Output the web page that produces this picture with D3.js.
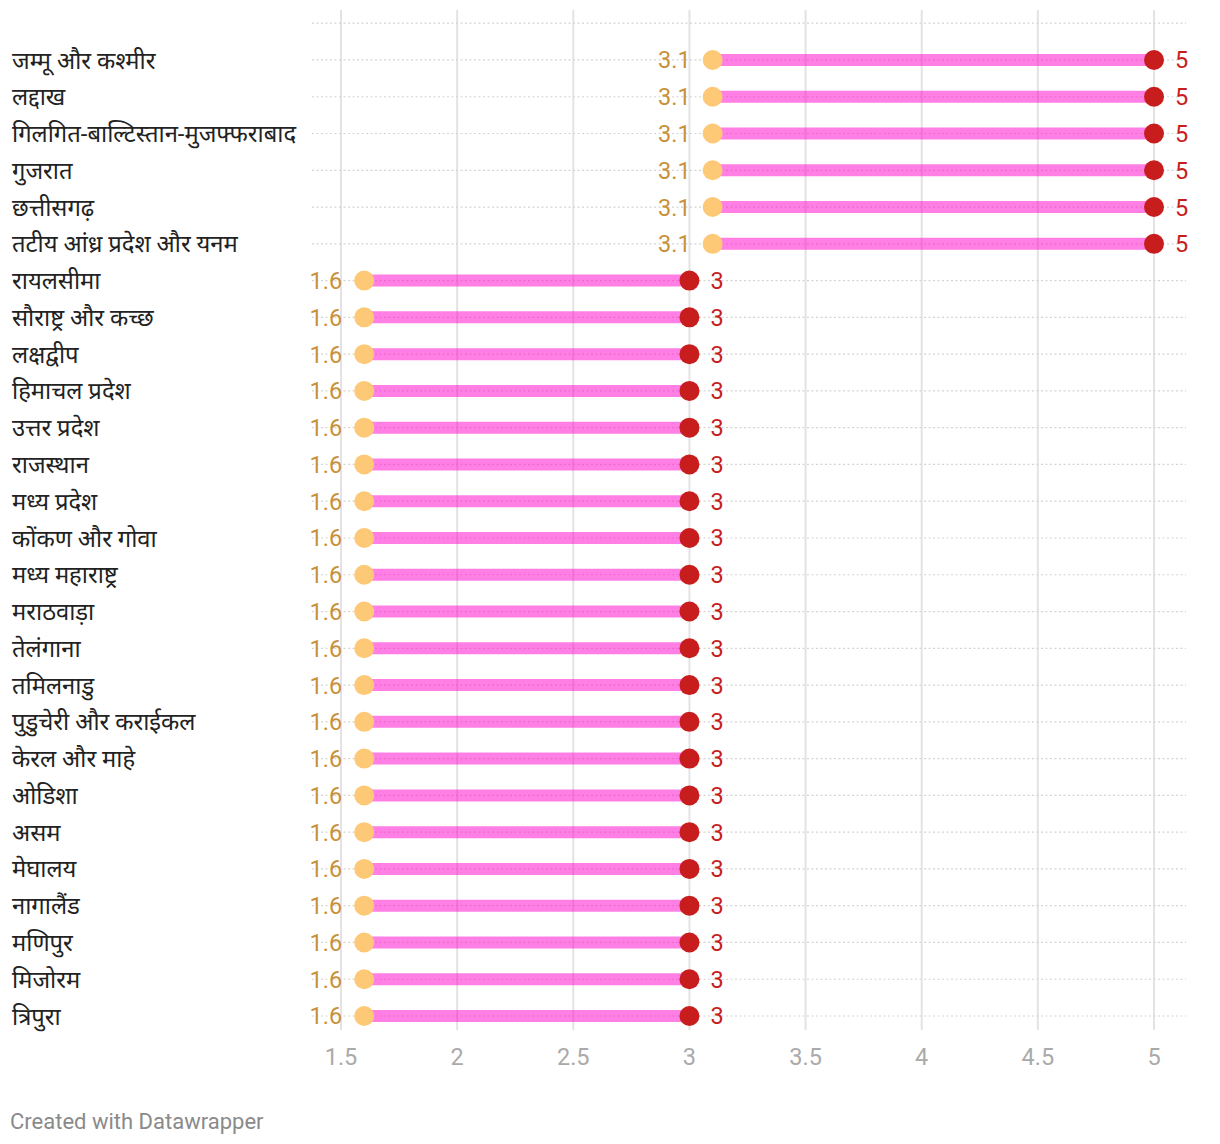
<!DOCTYPE html>
<html><head><meta charset="utf-8">
<script src="https://cdn.jsdelivr.net/npm/d3@7/dist/d3.min.js"></script>
<style>
body{margin:0;background:#fff;}
svg text{font-family:Roboto,"Noto Sans","Noto Sans Devanagari",sans-serif;}
</style></head>
<body><svg id="c" width="1220" height="1144"></svg>
<script>
const categories = ["जम्मू और कश्मीर","लद्दाख","गिलगित-बाल्टिस्तान-मुजफ्फराबाद","गुजरात","छत्तीसगढ़","तटीय आंध्र प्रदेश और यनम","रायलसीमा","सौराष्ट्र और कच्छ","लक्षद्वीप","हिमाचल प्रदेश","उत्तर प्रदेश","राजस्थान","मध्य प्रदेश","कोंकण और गोवा","मध्य महाराष्ट्र","मराठवाड़ा","तेलंगाना","तमिलनाडु","पुडुचेरी और कराईकल","केरल और माहे","ओडिशा","असम","मेघालय","नागालैंड","मणिपुर","मिजोरम","त्रिपुरा"];
const startValues = [3.1,3.1,3.1,3.1,3.1,3.1,1.6,1.6,1.6,1.6,1.6,1.6,1.6,1.6,1.6,1.6,1.6,1.6,1.6,1.6,1.6,1.6,1.6,1.6,1.6,1.6,1.6];
const endValues = [5,5,5,5,5,5,3,3,3,3,3,3,3,3,3,3,3,3,3,3,3,3,3,3,3,3,3];
const xTicks = [1.5,2,2.5,3,3.5,4,4.5,5];

const svg = d3.select("#c");
const x = d3.scaleLinear().domain([1.5,5]).range([341,1154]);
const y = d3.scalePoint().domain(d3.range(-1, categories.length)).range([23.2,1016]);

// vertical grid
svg.append("g").selectAll("line").data(xTicks).join("line")
  .attr("x1",d=>x(d)).attr("x2",d=>x(d)).attr("y1",10).attr("y2",1030)
  .attr("stroke","#e3e3e3").attr("stroke-width",2);

// horizontal dotted lines
svg.append("g").selectAll("line").data(d3.range(-1,categories.length)).join("line")
  .attr("x1",312).attr("x2",1186).attr("y1",d=>y(d)).attr("y2",d=>y(d))
  .attr("stroke","#d4d4d4").attr("stroke-width",1.2).attr("stroke-dasharray","2,2.5");

const rows = categories.map((c,i)=>({c,i,s:startValues[i],e:endValues[i]}));

// bars
svg.append("g").selectAll("line").data(rows).join("line")
  .attr("x1",d=>x(d.s)).attr("x2",d=>x(d.e)).attr("y1",d=>y(d.i)).attr("y2",d=>y(d.i))
  .attr("stroke","rgba(255,0,204,0.5)").attr("stroke-width",12);

// dots
svg.append("g").selectAll("circle").data(rows).join("circle")
  .attr("cx",d=>x(d.s)).attr("cy",d=>y(d.i)).attr("r",10).attr("fill","#fec976");
svg.append("g").selectAll("circle").data(rows).join("circle")
  .attr("cx",d=>x(d.e)).attr("cy",d=>y(d.i)).attr("r",10).attr("fill","#c71e1d");

// value labels
svg.append("g").selectAll("text").data(rows).join("text")
  .attr("x",d=>x(d.s)-22).attr("y",d=>y(d.i)).attr("dy","0.36em")
  .attr("text-anchor","end").attr("font-size",23.5).attr("fill","#c8913a")
  .text(d=>d.s);
svg.append("g").selectAll("text").data(rows).join("text")
  .attr("x",d=>x(d.e)+21).attr("y",d=>y(d.i)).attr("dy","0.36em")
  .attr("font-size",23.5).attr("fill","#c71e1d")
  .text(d=>d.e);

// category labels
svg.append("g").selectAll("text").data(rows).join("text")
  .attr("x",12).attr("y",d=>y(d.i)).attr("dy","0.36em")
  .attr("font-size",23.8).attr("fill","#222")
  .text(d=>d.c);

// x axis labels
svg.append("g").selectAll("text").data(xTicks).join("text")
  .attr("x",d=>x(d)).attr("y",1057).attr("dy","0.36em")
  .attr("text-anchor","middle").attr("font-size",23.5).attr("fill","#aaa")
  .text(d=>d);

svg.append("text").attr("x",10).attr("y",1121).attr("dy","0.36em")
  .attr("font-size",22).attr("fill","#8a8a8a").text("Created with Datawrapper");
</script></body></html>
